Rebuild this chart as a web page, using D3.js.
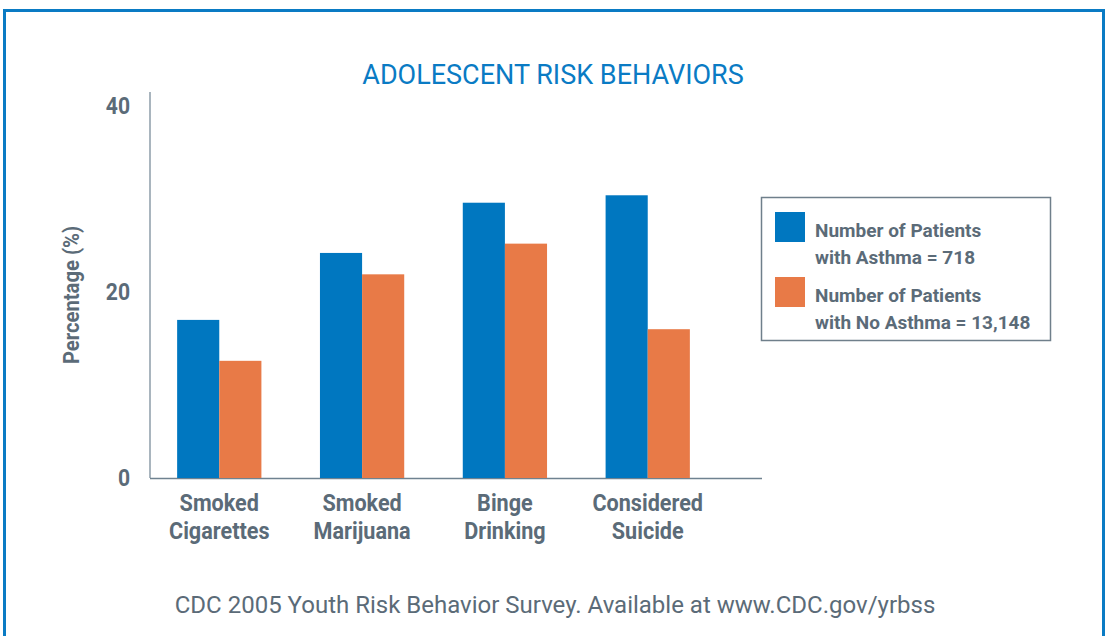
<!DOCTYPE html>
<html>
<head>
<meta charset="utf-8">
<script src="https://cdn.jsdelivr.net/npm/d3@7"></script>
<style>
  body { margin: 0; background: #fff; }
  text { font-family: "Roboto", "Liberation Sans", sans-serif; }
</style>
</head>
<body>
<div id="chart"></div>
<script>
// Data
const categories = [["Smoked", "Cigarettes"], ["Smoked", "Marijuana"], ["Binge", "Drinking"], ["Considered", "Suicide"]];
const asthma = [17.0, 24.2, 29.6, 30.4];
const noAsthma = [12.6, 21.9, 25.2, 16.0];
const yTicks = [0, 20, 40];
const seriesNames = [["Number of Patients", "with Asthma = 718"], ["Number of Patients", "with No Asthma = 13,148"]];
const seriesColors = ["#0077c0", "#e87a47"];

const W = 1109, H = 636;
const narrow = 0.88; // squeeze bold labels a bit, the original type is condensed
const svg = d3.select("#chart").append("svg")
    .attr("width", W)
    .attr("height", H);

// frame
svg.append("rect")
    .attr("x", 4.5).attr("y", 10.5)
    .attr("width", 1099).attr("height", 700)
    .attr("fill", "none")
    .attr("stroke", "#0a7bc4")
    .attr("stroke-width", 3);

const gray = "#5b6b78";

// Scales
const x0 = d3.scaleBand()
    .domain(d3.range(categories.length))
    .range([150, 717])
    .paddingInner(0.41)
    .paddingOuter(0.19);

const x1 = d3.scaleBand()
    .domain([0, 1])
    .range([0, x0.bandwidth()]);

const y = d3.scaleLinear()
    .domain([0, 40])
    .range([478, 106]);

// title
svg.append("text")
    .attr("x", 553).attr("y", 84)
    .attr("text-anchor", "middle")
    .attr("fill", "#0a7bc4")
    .style("font-size", "27px")
    .text("ADOLESCENT RISK BEHAVIORS");

// axes lines
svg.append("line")
    .attr("x1", 150).attr("x2", 150)
    .attr("y1", 92).attr("y2", 478)
    .attr("stroke", "#8d9ca8").attr("stroke-width", 1.5);

svg.append("line")
    .attr("x1", 150).attr("x2", 762)
    .attr("y1", 478.5).attr("y2", 478.5)
    .attr("stroke", "#6f8290").attr("stroke-width", 1.5);

// y tick labels
svg.selectAll(".ytick")
    .data(yTicks)
  .enter().append("text")
    .attr("class", "ytick")
    .attr("transform", d => `translate(130,${y(d) + 8}) scale(${narrow},1)`)
    .attr("text-anchor", "end")
    .attr("fill", gray)
    .style("font-size", "24px")
    .style("font-weight", "bold")
    .text(d => d);

svg.append("text")
    .attr("transform", "translate(79,295) rotate(-90) scale(0.92,1)")
    .attr("text-anchor", "middle")
    .attr("fill", gray)
    .style("font-size", "22px")
    .style("font-weight", "bold")
    .text("Percentage (%)");

// bars
const groups = svg.selectAll(".grp")
    .data(categories)
  .enter().append("g")
    .attr("class", "grp")
    .attr("transform", (d, i) => `translate(${x0(i)},0)`);

groups.selectAll("rect")
    .data((d, i) => [asthma[i], noAsthma[i]])
  .enter().append("rect")
    .attr("x", (d, j) => x1(j))
    .attr("y", d => y(d))
    .attr("width", x1.bandwidth())
    .attr("height", d => y(0) - y(d))
    .attr("fill", (d, j) => seriesColors[j]);

// category labels
groups.selectAll(".cat")
    .data(d => d)
  .enter().append("text")
    .attr("class", "cat")
    .attr("transform", (d, k) => `translate(${x0.bandwidth() / 2},${511 + k * 28}) scale(0.9,1)`)
    .attr("text-anchor", "middle")
    .attr("fill", gray)
    .style("font-size", "24px")
    .style("font-weight", "bold")
    .text(d => d);

// legend
const legend = svg.append("g");
legend.append("rect")
    .attr("x", 761.5).attr("y", 197.5)
    .attr("width", 289).attr("height", 143)
    .attr("fill", "none")
    .attr("stroke", "#6f7f8b")
    .attr("stroke-width", 1.5);

const items = legend.selectAll(".item")
    .data(seriesNames)
  .enter().append("g")
    .attr("class", "item")
    .attr("transform", (d, i) => `translate(775,${212 + i * 65})`);

items.append("rect")
    .attr("width", 30).attr("height", 30)
    .attr("fill", (d, i) => seriesColors[i]);

items.selectAll("text")
    .data(d => d)
  .enter().append("text")
    .attr("x", 40)
    .attr("y", (d, k) => 25 + k * 27)
    .attr("fill", gray)
    .style("font-size", "19px")
    .style("font-weight", "bold")
    .text(d => d);

// source
svg.append("text")
    .attr("x", 555).attr("y", 613)
    .attr("text-anchor", "middle")
    .attr("fill", gray)
    .style("font-size", "24px")
    .text("CDC 2005 Youth Risk Behavior Survey. Available at www.CDC.gov/yrbss");
</script>
</body>
</html>
